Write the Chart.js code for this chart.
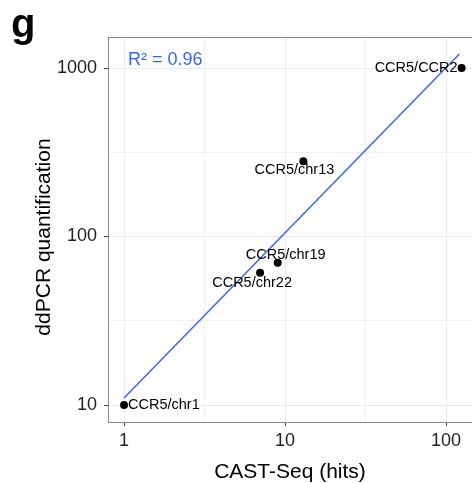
<!DOCTYPE html>
<html>
<head>
<meta charset="utf-8">
<script src="https://cdn.jsdelivr.net/npm/chart.js@4"></script>
<style>
  body { margin: 0; background: #fff; }
  #wrap { width: 472px; height: 483px; }
</style>
</head>
<body>
<div id="wrap"><canvas id="chartCanvas" width="472" height="483"></canvas></div>
<script>
// CAST-Seq hits vs ddPCR quantification (log-log)
const pointX = [1, 7, 9, 13, 125];
const pointY = [10, 61, 70, 280, 1000];
const pointLabels = ['CCR5/chr1', 'CCR5/chr22', 'CCR5/chr19', 'CCR5/chr13', 'CCR5/CCR2'];

// fitted regression line
const fitX = [1, 121];
const fitY = [11, 1210];

const xTicks = [1, 10, 100];
const yTicks = [10, 100, 1000];
const xMinor = [3.162, 31.62];
const yMinor = [31.62, 316.2];
const rSquared = 'R² = 0.96';

const FONT = "'Liberation Sans', Arial, Helvetica, sans-serif";
const BLUE = '#3366FF';

// label placement relative to its point (pixels)
const labelPos = [
  { dx: 4, dy: 0, align: 'left' },
  { dx: -8, dy: 10, align: 'center' },
  { dx: 8, dy: -8, align: 'center' },
  { dx: -9, dy: 9, align: 'center' },
  { dx: -4, dy: 0, align: 'right' }
];

const isMajor = (v, list) => list.some(t => Math.abs(t - v) < 1e-6);

const extras = {
  id: 'extras',
  beforeDatasetsDraw(chart) {
    const { ctx, chartArea } = chart;
    // top border of the panel
    ctx.save();
    ctx.strokeStyle = '#888';
    ctx.lineWidth = 1;
    ctx.beginPath();
    ctx.moveTo(chartArea.left, chartArea.top + 0.5);
    ctx.lineTo(chartArea.right, chartArea.top + 0.5);
    ctx.stroke();
    ctx.restore();
  },
  afterDatasetsDraw(chart) {
    const { ctx, chartArea } = chart;
    const meta = chart.getDatasetMeta(1);
    ctx.save();
    ctx.fillStyle = '#000';
    ctx.font = '14.5px ' + FONT;
    ctx.textBaseline = 'middle';
    meta.data.forEach((pt, i) => {
      const p = labelPos[i];
      ctx.textAlign = p.align;
      ctx.fillText(pointLabels[i], pt.x + p.dx, pt.y + p.dy);
    });

    // R^2 annotation
    ctx.fillStyle = BLUE;
    ctx.font = '18px ' + FONT;
    ctx.textAlign = 'left';
    ctx.textBaseline = 'alphabetic';
    ctx.fillText(rSquared, chartArea.left + 20, 65);

    // panel letter
    ctx.fillStyle = '#000';
    ctx.font = 'bold 40px ' + FONT;
    ctx.fillText('g', 11, 37);

    // y axis title
    ctx.font = '21px ' + FONT;
    ctx.textAlign = 'center';
    ctx.textBaseline = 'middle';
    ctx.translate(44, 237);
    ctx.rotate(-Math.PI / 2);
    ctx.fillText('ddPCR quantification', 0, 0);
    ctx.restore();
  }
};

const ctx = document.getElementById('chartCanvas').getContext('2d');

new Chart(ctx, {
  type: 'scatter',
  data: {
    datasets: [
      {
        type: 'line',
        data: fitX.map((x, i) => ({ x: x, y: fitY[i] })),
        borderColor: BLUE,
        borderWidth: 1.5,
        pointRadius: 0,
        fill: false,
        tension: 0
      },
      {
        data: pointX.map((x, i) => ({ x: x, y: pointY[i] })),
        backgroundColor: '#000',
        borderWidth: 0,
        pointRadius: 4
      }
    ]
  },
  options: {
    responsive: false,
    animation: false,
    layout: { autoPadding: false, padding: { top: 37, right: 0, bottom: 0, left: 0 } },
    plugins: {
      legend: { display: false },
      tooltip: { enabled: false }
    },
    scales: {
      x: {
        type: 'logarithmic',
        min: 0.795,
        max: 145,
        afterBuildTicks: (scale) => {
          scale.ticks = [...xTicks, ...xMinor].sort((a, b) => a - b).map(v => ({ value: v }));
        },
        afterFit: (scale) => {
          scale.height = 61;
          // panel runs right up to the canvas edge
          scale.paddingLeft = 0;
          scale.paddingRight = 0;
        },
        ticks: {
          color: '#222',
          font: { family: FONT, size: 18 },
          padding: 4,
          maxRotation: 0,
          autoSkip: false,
          callback: (v) => isMajor(v, xTicks) ? String(v) : ''
        },
        grid: {
          color: '#ebebeb',
          lineWidth: (c) => c.tick && isMajor(c.tick.value, xTicks) ? 1 : 0.7,
          tickColor: (c) => c.tick && isMajor(c.tick.value, xTicks) ? '#444' : 'rgba(0,0,0,0)',
          tickLength: 4,
          tickWidth: 1
        },
        border: { display: true, color: '#888', width: 1 },
        title: {
          display: true,
          text: 'CAST-Seq (hits)',
          color: '#000',
          font: { family: FONT, size: 21, lineHeight: 1.0 },
          padding: { top: 0, bottom: 0 }
        }
      },
      y: {
        type: 'logarithmic',
        min: 7.93,
        max: 1528,
        afterBuildTicks: (scale) => {
          scale.ticks = [...yTicks, ...yMinor].sort((a, b) => a - b).map(v => ({ value: v }));
        },
        afterFit: (scale) => {
          scale.width = 108;
          scale.paddingTop = 0;
          scale.paddingBottom = 0;
        },
        ticks: {
          color: '#222',
          font: { family: FONT, size: 18 },
          padding: 7,
          autoSkip: false,
          callback: (v) => isMajor(v, yTicks) ? String(v) : ''
        },
        grid: {
          color: '#ebebeb',
          lineWidth: (c) => c.tick && isMajor(c.tick.value, yTicks) ? 1 : 0.7,
          tickColor: (c) => c.tick && isMajor(c.tick.value, yTicks) ? '#444' : 'rgba(0,0,0,0)',
          tickLength: 4,
          tickWidth: 1
        },
        border: { display: true, color: '#888', width: 1 }
      }
    }
  },
  plugins: [extras]
});
</script>
</body>
</html>
